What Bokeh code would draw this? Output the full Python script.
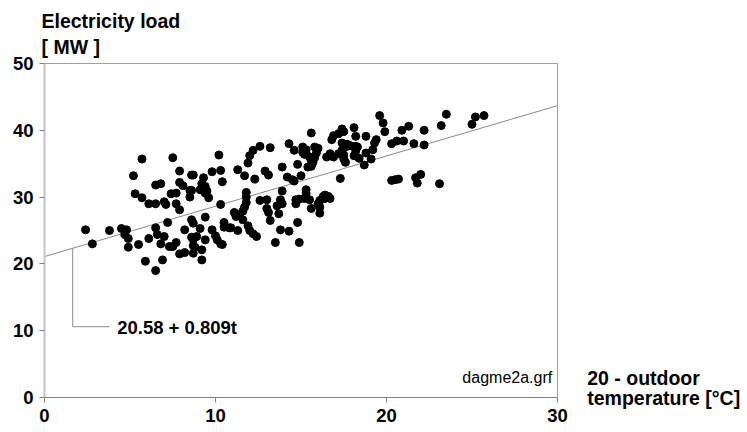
import numpy as np
from bokeh.plotting import figure
from bokeh.models import Range1d, Label, FixedTicker
from bokeh.layouts import row
from bokeh.embed import file_html
from bokeh.resources import INLINE

# ---- data ----
temp = [5.7, 7.5, 5.2, 7.9, 6.5, 6.8, 7.9, 5.3, 5.7, 6.1, 6.5, 7.0, 7.1, 7.4, 7.7, 7.7, 7.9, 7.2,
        2.4, 3.8, 4.5, 4.8, 4.7, 4.9, 6.5, 6.6, 7.0, 6.1, 5.5, 6.8, 7.3, 7.5, 7.7, 7.9, 2.8, 4.9,
        5.9, 6.9, 6.5,
        10.2, 12.0, 12.2, 12.6, 13.2, 14.3, 11.9, 13.9, 8.6, 8.7, 9.8, 10.3, 11.3, 12.9, 13.1, 11.7,
        12.3, 9.3, 10.4, 8.1, 9.2, 9.4, 8.5, 8.6, 9.1, 9.3, 9.4, 9.5, 9.4, 8.5, 9.6, 11.8, 11.8,
        11.8, 13.9, 14.2, 12.6, 13.0, 13.8, 13.9, 13.6, 8.2, 10.3, 11.7, 11.6, 11.4, 11.2, 11.1,
        13.0, 13.1, 13.2, 13.7, 8.6, 8.7, 9.4, 10.5, 10.8, 10.9, 10.5, 11.6, 11.9, 12.0, 12.2, 12.4,
        11.3, 13.8, 14.3, 8.2, 9.1, 8.9, 8.6, 8.7, 9.4, 9.8, 10.0, 10.1, 10.3, 10.4, 8.7, 8.8, 8.7,
        9.2, 9.2, 13.5,
        19.6, 19.8, 19.9, 17.4, 17.5, 17.2, 18.1, 15.6, 16.9, 16.8, 18.2, 18.8, 17.4, 17.7, 17.9,
        17.6, 18.2, 18.3, 19.4, 19.3, 20.3, 20.6, 14.6, 15.1, 15.3, 15.1, 15.3, 15.2, 15.8, 16.0,
        15.9, 17.4, 17.5, 17.2, 18.2, 18.1, 18.8, 19.2, 16.7, 16.9, 16.5, 15.5, 15.8, 15.6, 15.7,
        17.5, 17.6, 18.4, 19.1, 14.8, 15.4, 15.6, 18.7, 14.5, 14.6, 15.0, 17.3, 20.3, 20.5, 20.7,
        15.3, 15.3, 14.7, 14.9, 15.2, 15.5, 14.7, 16.1, 16.3, 16.4, 16.6, 16.7, 16.4, 16.0, 16.1,
        16.1, 15.6, 14.8, 14.9,
        23.5, 25.2, 25.7, 25.0, 23.2, 21.3, 20.9, 22.2, 21.0, 21.6, 22.2, 21.7, 22.0, 21.8, 23.1]
load = [35.7, 35.9, 33.2, 33.9, 31.8, 32.0, 32.2, 30.5, 29.9, 29.0, 29.0, 29.3, 28.9, 30.5, 30.6, 29.0, 28.1, 26.2,
        25.1, 25.0, 25.3, 25.1, 24.4, 23.8, 25.4, 24.4, 24.1, 23.8, 22.9, 23.0, 22.6, 22.6, 23.2, 21.5, 23.0, 22.5,
        20.4, 20.6, 19.0,
        36.3, 36.2, 37.0, 37.6, 37.4, 38.0, 35.1, 34.5, 33.3, 33.3, 33.8, 34.0, 34.1, 33.9, 33.3, 33.2,
        32.7, 32.9, 32.3, 31.7, 32.0, 31.6, 31.0, 31.0, 31.1, 31.1, 31.2, 30.9, 30.6, 30.0, 29.9, 30.7, 30.0,
        29.2, 30.9, 33.0, 29.5, 29.6, 29.6, 29.0, 28.7, 21.7, 28.9, 28.5, 27.9, 27.4, 27.1, 27.7,
        28.3, 27.7, 26.5, 27.5, 26.6, 26.1, 27.0, 26.2, 25.4, 25.4, 25.5, 26.6, 25.7, 25.0, 24.5, 24.1,
        25.0, 25.1, 24.9, 25.1, 25.3, 24.1, 24.0, 23.6, 23.6, 25.1, 24.2, 23.6, 23.0, 22.9, 22.7, 22.5, 21.6,
        22.1, 20.6, 23.2,
        42.2, 41.1, 39.8, 40.2, 39.8, 39.5, 40.4, 39.6, 39.2, 38.6, 39.1, 39.1, 38.1, 37.9, 37.7,
        37.5, 37.6, 37.5, 38.6, 38.1, 38.0, 38.4, 37.0, 37.5, 37.1, 36.7, 36.6, 36.4, 37.5, 37.3,
        36.6, 37.0, 36.3, 36.5, 36.9, 36.2, 36.6, 37.1, 36.5, 36.0, 36.0, 36.0, 35.9, 35.5, 35.2,
        35.7, 35.2, 35.8, 35.7, 34.9, 34.5, 34.6, 34.8, 32.6, 32.4, 33.2, 32.8, 32.5, 32.6, 32.7,
        31.1, 30.6, 29.6, 29.7, 29.8, 29.6, 29.0, 29.5, 30.1, 30.3, 30.1, 29.8, 29.8, 29.0, 28.5,
        27.6, 28.3, 26.2, 23.2,
        42.4, 42.0, 42.2, 40.9, 40.7, 40.6, 40.0, 40.0, 38.4, 38.0, 37.8, 32.9, 33.4, 32.1, 32.0]

x_ticks = [0, 10, 20, 30]
y_ticks = [0, 10, 20, 30, 40, 50]

# regression line as drawn on the chart
fit_intercept = 21.1
fit_slope = 0.753
formula_text = "20.58 + 0.809t"

# pointer from the regression line to the formula label
pointer_t = 1.65
pointer_low = 10.6
pointer_end_t = 3.8

y_title = "Electricity load\n[ MW ]"
x_title_lines = ["20 - outdoor", "temperature [°C]"]
file_note = "dagme2a.grf"

FONT = "Liberation Sans"
MAIN_W = 580
H = 432

p = figure(width=MAIN_W, height=H,
           x_range=Range1d(0, 30), y_range=Range1d(0, 50),
           output_backend="svg", toolbar_location=None,
           min_border_left=44, min_border_right=MAIN_W - 44 - 513,
           min_border_top=63, min_border_bottom=35)
p.grid.visible = False
p.outline_line_color = "#a0a0a0"
p.outline_line_width = 1
p.background_fill_color = "white"
p.border_fill_color = "white"

# y-axis title shown as the plot title (top-left)
p.title.text = y_title
p.title.align = "left"
p.title.offset = -3
p.title.standoff = 10
p.title.text_font = FONT
p.title.text_font_style = "bold"
p.title.text_font_size = "19.5px"
p.title.text_line_height = 1.2
p.title.text_color = "black"

for ax, ticks in ((p.xaxis[0], x_ticks), (p.yaxis[0], y_ticks)):
    ax.ticker = FixedTicker(ticks=ticks)
    ax.minor_tick_line_color = None
    ax.major_tick_in = 0
    ax.major_tick_out = 5
    ax.major_tick_line_color = "#808080"
    ax.major_label_text_font = FONT
    ax.major_label_text_font_style = "bold"
    ax.major_label_text_font_size = "18.5px"
    ax.major_label_text_color = "black"
    ax.major_label_standoff = 6

p.xaxis.axis_line_color = "#808080"
p.xaxis.axis_line_width = 1
p.yaxis.axis_line_color = "#c4c4c4"
p.yaxis.axis_line_width = 2

# regression line
xs = np.array([p.x_range.start, p.x_range.end])
p.line(xs, fit_intercept + fit_slope * xs, line_color="#8a8a8a", line_width=1)

# pointer to the formula
p.line([pointer_t, pointer_t, pointer_end_t],
       [fit_intercept + fit_slope * pointer_t, pointer_low, pointer_low],
       line_color="#8a8a8a", line_width=1)

p.scatter(temp, load, size=8, fill_color="black", line_color="black")

p.add_layout(Label(x=4.25, y=10.43, text=formula_text, text_font=FONT,
                   text_font_style="bold", text_font_size="18.5px",
                   text_baseline="middle", text_align="left", text_color="black"))
p.add_layout(Label(x=29.69, y=3.0, text=file_note, text_font=FONT,
                   text_font_size="16px", text_baseline="middle",
                   text_align="right", text_color="black"))

# side panel holding the x-axis title (to the right of the frame)
side_w = 747 - MAIN_W
p2 = figure(width=side_w, height=H, x_range=Range1d(0, side_w), y_range=Range1d(0, H),
            title=None, x_axis_location=None, y_axis_location=None,
            output_backend="svg", toolbar_location=None,
            min_border_left=0, min_border_right=0, min_border_top=0, min_border_bottom=0)
if "frame_align" in p2.properties():
    p2.frame_align = False
p2.grid.visible = False
p2.outline_line_color = None
p2.background_fill_color = "white"
p2.border_fill_color = "white"
for txt, cy in zip(x_title_lines, [377.5, 397.0]):
    p2.add_layout(Label(x=586.7 - MAIN_W, y=H - cy, text=txt, text_font=FONT,
                        text_font_style="bold", text_font_size="19.5px",
                        text_baseline="middle", text_align="left", text_color="black"))

layout = row(p, p2, spacing=0)
open("out.html", "w").write(file_html(layout, INLINE))
